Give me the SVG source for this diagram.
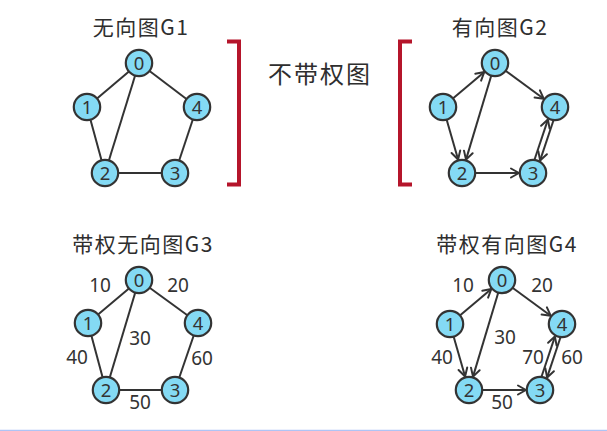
<svg xmlns="http://www.w3.org/2000/svg" width="607" height="431" viewBox="0 0 607 431">
<style>
.t{font-family:"Noto Sans CJK SC","Noto Sans",sans-serif;fill:#2e2e2e;font-size:21px;text-anchor:middle;letter-spacing:1.5px}
.big{font-size:24px;letter-spacing:2px}
.n circle{fill:#84daf4;stroke:#333;stroke-width:2.2}
.n text{font-family:"Noto Sans","Open Sans",sans-serif;font-size:18.5px;fill:#333;text-anchor:middle}
.e line{stroke:#333;stroke-width:2}
.d line{marker-end:url(#arr)}
.w{font-family:"Noto Sans","Open Sans",sans-serif;font-size:19px;fill:#333;text-anchor:middle}
.br{fill:none;stroke:#b5152b;stroke-width:4}
</style>
<defs>
<marker id="arr" markerUnits="userSpaceOnUse" markerWidth="12" markerHeight="12" refX="9" refY="5" orient="auto" viewBox="-1 -1 12 12">
<path d="M1,0.5 L9,5 L1,9.5" fill="none" stroke="#333" stroke-width="2" stroke-linecap="round" stroke-linejoin="round"/>
</marker>
</defs>
<rect width="607" height="431" fill="#fff"/>
<line x1="0" y1="430.5" x2="607" y2="430.5" stroke="#aec4f5" stroke-width="1.5"/>

<text class="t" x="141" y="35">无向图G1</text>
<text class="t" x="500" y="35">有向图G2</text>
<text class="t" x="143" y="252">带权无向图G3</text>
<text class="t" x="507" y="252">带权有向图G4</text>
<text class="t big" x="320" y="83">不带权图</text>

<path class="br" d="M227,41.5 H239 V184.5 H227"/>
<path class="br" d="M412,41.5 H400 V184.5 H412"/>

<g id="connectors">
<g class="e">
<line x1="139" y1="63" x2="87" y2="107"/>
<line x1="139" y1="63" x2="105" y2="173"/>
<line x1="139" y1="63" x2="197" y2="107"/>
<line x1="87" y1="107" x2="105" y2="173"/>
<line x1="105" y1="173" x2="175" y2="173"/>
<line x1="197" y1="107" x2="175" y2="173"/>

<line x1="139" y1="280" x2="88" y2="323"/>
<line x1="139" y1="280" x2="106" y2="390"/>
<line x1="139" y1="280" x2="198" y2="323"/>
<line x1="88" y1="323" x2="106" y2="390"/>
<line x1="106" y1="390" x2="175" y2="390"/>
<line x1="198" y1="323" x2="175" y2="390"/>
</g>
<g class="e d">
<line x1="452.9" y1="98.6" x2="484.3" y2="72.0"/>
<line x1="491.3" y1="75.5" x2="466.0" y2="159.6"/>
<line x1="505.5" y1="70.7" x2="543.7" y2="98.7"/>
<line x1="446.6" y1="119.5" x2="458.1" y2="159.5"/>
<line x1="475" y1="173" x2="519" y2="173"/>
<line x1="534.4" y1="160.0" x2="547.9" y2="119.6"/>
<line x1="553.6" y1="120.0" x2="540.1" y2="160.4"/>

<line x1="459.9" y1="315.6" x2="491.3" y2="289.0"/>
<line x1="498.3" y1="292.5" x2="473.0" y2="376.6"/>
<line x1="512.5" y1="287.7" x2="550.7" y2="315.7"/>
<line x1="453.6" y1="336.5" x2="465.1" y2="376.5"/>
<line x1="482" y1="390" x2="526" y2="390"/>
<line x1="541.4" y1="377.0" x2="554.9" y2="336.6"/>
<line x1="560.6" y1="337.0" x2="547.1" y2="377.4"/>
</g>
</g>

<g id="weights">
<text class="w" x="100" y="291.5">10</text>
<text class="w" x="178" y="291.5">20</text>
<text class="w" x="140" y="344.5">30</text>
<text class="w" x="77" y="363.5">40</text>
<text class="w" x="202" y="364.5">60</text>
<text class="w" x="140" y="408.5">50</text>

<text class="w" x="463" y="291.5">10</text>
<text class="w" x="542" y="291.5">20</text>
<text class="w" x="505" y="343.5">30</text>
<text class="w" x="442" y="363.5">40</text>
<text class="w" x="533" y="363.5">70</text>
<text class="w" x="572" y="363.5">60</text>
<text class="w" x="502" y="408.5">50</text>
</g>

<g id="G1-0" class="n"><circle cx="139" cy="63" r="13.2"/><text x="139" y="69.5">0</text></g>
<g id="G1-1" class="n"><circle cx="87" cy="107" r="13.2"/><text x="87" y="113.5">1</text></g>
<g id="G1-2" class="n"><circle cx="105" cy="173" r="13.2"/><text x="105" y="179.5">2</text></g>
<g id="G1-3" class="n"><circle cx="175" cy="173" r="13.2"/><text x="175" y="179.5">3</text></g>
<g id="G1-4" class="n"><circle cx="197" cy="107" r="13.2"/><text x="197" y="113.5">4</text></g>

<g id="G2-0" class="n"><circle cx="495" cy="63" r="13.2"/><text x="495" y="69.5">0</text></g>
<g id="G2-1" class="n"><circle cx="443" cy="107" r="13.2"/><text x="443" y="113.5">1</text></g>
<g id="G2-2" class="n"><circle cx="462" cy="173" r="13.2"/><text x="462" y="179.5">2</text></g>
<g id="G2-3" class="n"><circle cx="533" cy="173" r="13.2"/><text x="533" y="179.5">3</text></g>
<g id="G2-4" class="n"><circle cx="555" cy="107" r="13.2"/><text x="555" y="113.5">4</text></g>

<g id="G3-0" class="n"><circle cx="139" cy="280" r="13.2"/><text x="139" y="286.5">0</text></g>
<g id="G3-1" class="n"><circle cx="88" cy="323" r="13.2"/><text x="88" y="329.5">1</text></g>
<g id="G3-2" class="n"><circle cx="106" cy="390" r="13.2"/><text x="106" y="396.5">2</text></g>
<g id="G3-3" class="n"><circle cx="175" cy="390" r="13.2"/><text x="175" y="396.5">3</text></g>
<g id="G3-4" class="n"><circle cx="198" cy="323" r="13.2"/><text x="198" y="329.5">4</text></g>

<g id="G4-0" class="n"><circle cx="502" cy="280" r="13.2"/><text x="502" y="286.5">0</text></g>
<g id="G4-1" class="n"><circle cx="450" cy="324" r="13.2"/><text x="450" y="330.5">1</text></g>
<g id="G4-2" class="n"><circle cx="469" cy="390" r="13.2"/><text x="469" y="396.5">2</text></g>
<g id="G4-3" class="n"><circle cx="540" cy="390" r="13.2"/><text x="540" y="396.5">3</text></g>
<g id="G4-4" class="n"><circle cx="562" cy="324" r="13.2"/><text x="562" y="330.5">4</text></g>
</svg>
